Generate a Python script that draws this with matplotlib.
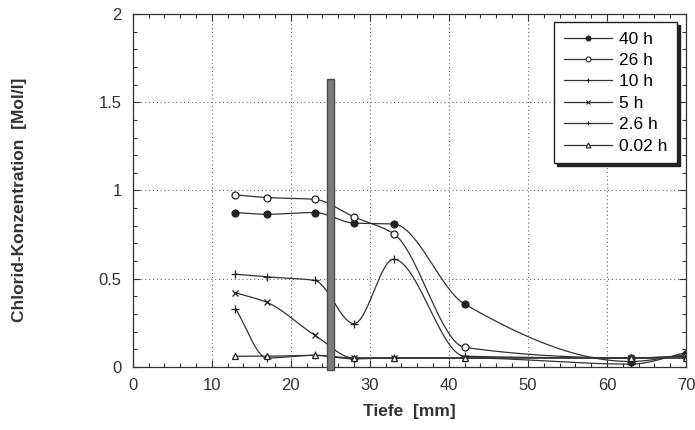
import numpy as np
import matplotlib
matplotlib.use("Agg")
import matplotlib.pyplot as plt
from matplotlib.ticker import MultipleLocator

plt.rcParams['font.family'] = ['Liberation Sans', 'DejaVu Sans']

# Messtiefen [mm]
tiefe = [13, 17, 23, 28, 33, 42, 63, 70]

# Chloridkonzentration [Mol/l] je Beaufschlagungsdauer
c_40h = [0.875, 0.865, 0.875, 0.815, 0.81, 0.355, 0.03, 0.07]
c_26h = [0.975, 0.96, 0.95, 0.85, 0.755, 0.11, 0.05, 0.06]
c_10h = [0.525, 0.51, 0.49, 0.245, 0.61, 0.06, 0.05, 0.05]
c_5h = [0.42, 0.365, 0.18, 0.05, 0.05, 0.05, 0.05, 0.06]
c_2_6h = [0.33, 0.05, 0.065, 0.045, 0.05, 0.05, 0.015, 0.08]
c_002h = [0.06, 0.06, 0.065, 0.05, 0.05, 0.05, 0.05, 0.05]

reihen = [
    ("40 h", c_40h, "o", "#222222"),
    ("26 h", c_26h, "o", "white"),
    ("10 h", c_10h, "+", "none"),
    ("5 h", c_5h, "x", "none"),
    ("2.6 h", c_2_6h, "+", "none"),
    ("0.02 h", c_002h, "^", "white"),
]

# Lage und Hoehe des Balkens (Bewehrung)
balken_x = 25
balken_h = 1.63


def glatt(x, y, n=400):
    # monotone Hermite-Kurve (Fritsch-Carlson) durch die Messpunkte
    x = np.asarray(x, float)
    y = np.asarray(y, float)
    h = np.diff(x)
    d = np.diff(y) / h
    m = np.zeros_like(y)
    for i in range(1, len(x) - 1):
        if d[i - 1] * d[i] > 0:
            w1 = 2 * h[i] + h[i - 1]
            w2 = h[i] + 2 * h[i - 1]
            m[i] = (w1 + w2) / (w1 / d[i - 1] + w2 / d[i])
    m[0] = d[0]
    m[-1] = d[-1]
    xs = np.linspace(x[0], x[-1], n)
    k = np.clip(np.searchsorted(x, xs) - 1, 0, len(x) - 2)
    hk = h[k]
    t = (xs - x[k]) / hk
    h00 = 2 * t**3 - 3 * t**2 + 1
    h10 = t**3 - 2 * t**2 + t
    h01 = -2 * t**3 + 3 * t**2
    h11 = t**3 - t**2
    ys = h00 * y[k] + h10 * hk * m[k] + h01 * y[k + 1] + h11 * hk * m[k + 1]
    return xs, ys


fig = plt.figure(figsize=(6.95, 4.3), dpi=100)
ax = fig.add_axes([0.191, 0.147, 0.796, 0.82])

for name, werte, mk, fc in reihen:
    xs, ys = glatt(tiefe, werte)
    ax.plot(xs, ys, color="#333333", lw=0.9)
    ax.plot(tiefe, werte, ls="none", marker=mk, ms=5 if mk != "+" else 6,
            mfc=fc, mec="#222222", mew=0.9)

for name, werte, mk, fc in reihen:
    ax.plot([], [], color="#333333", lw=0.9, marker=mk, ms=3.5,
            mfc=fc, mec="#222222", mew=0.8, label=name)

ax.bar(balken_x, balken_h + 0.02, bottom=-0.02, width=0.9, color="#7d7d7d",
       edgecolor="#4a4a4a", linewidth=1.0, zorder=5, clip_on=False)

ax.set_xlim(0, 70)
ax.set_ylim(0, 2)
ax.xaxis.set_major_locator(MultipleLocator(10))
ax.xaxis.set_minor_locator(MultipleLocator(2))
ax.yaxis.set_major_locator(MultipleLocator(0.5))
ax.yaxis.set_minor_locator(MultipleLocator(0.1))
ax.yaxis.set_major_formatter(plt.FuncFormatter(lambda v, p: "%g" % v))
ax.tick_params(which="both", direction="in", top=True, right=True,
               color="#333333", width=0.8)
ax.tick_params(which="major", length=5, labelsize=12, pad=8, labelcolor="#333333")
ax.tick_params(which="minor", length=3)
ax.grid(True, which="major", ls=(0, (1, 2.5)), color="#666666", lw=0.8)
for s in ax.spines.values():
    s.set_color("#333333")
    s.set_linewidth(0.9)

ax.set_xlabel("Tiefe  [mm]", fontsize=12.5, fontweight="bold", color="#333333", labelpad=8)
ax.set_ylabel("Chlorid-Konzentration  [Mol/l]", fontsize=12.5, fontweight="bold",
              color="#333333")
ax.yaxis.set_label_coords(-0.192, 0.473)

leg = ax.legend(loc="upper right", bbox_to_anchor=(0.984, 0.978), borderaxespad=0,
                fontsize=12.5, frameon=True, fancybox=False,
                shadow={"color": "#222222", "alpha": 1},
                edgecolor="#222222", handlelength=2.8, handletextpad=0.4,
                labelspacing=0.36, borderpad=0.55, framealpha=1)
leg.get_frame().set_linewidth(1.0)

fig.savefig("out.png", dpi=100)
